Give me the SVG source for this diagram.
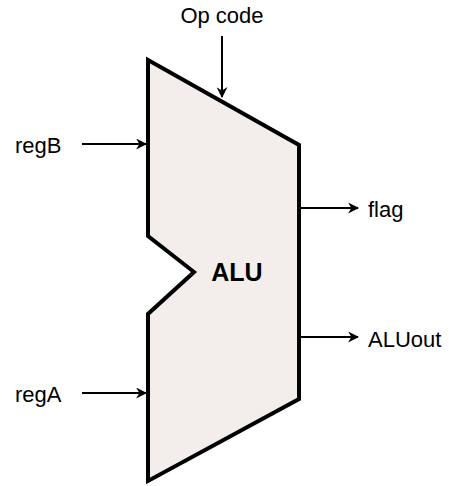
<svg xmlns="http://www.w3.org/2000/svg" width="449" height="486" viewBox="0 0 449 486">
  <defs>
    <marker id="arrow" viewBox="0 0 10 10" refX="9" refY="5" markerWidth="11" markerHeight="11" markerUnits="userSpaceOnUse" orient="auto">
      <path d="M0,0 L10,5 L0,10 L3,5 Z" fill="#000"/>
    </marker>
  </defs>
  <style>
    .lbl { font-family: "Liberation Sans", Arial, sans-serif; font-size: 22px; fill: #000; }
    .conn { stroke: #000; stroke-width: 2; fill: none; marker-end: url(#arrow); }
  </style>
  <rect width="449" height="486" fill="#fff"/>
  <g id="alu">
    <path d="M148,60 L299,145 L299,399 L148,481 L148,314 L194,272 L148,236 Z" fill="#f3eeec" stroke="#000" stroke-width="4" stroke-linejoin="miter"/>
    <text x="237" y="281" text-anchor="middle" class="lbl" style="font-weight:bold;font-size:25px">ALU</text>
  </g>
  <g id="connectors">
    <line class="conn" x1="222" y1="36" x2="222" y2="97"/>
    <line class="conn" x1="82" y1="144" x2="146" y2="144"/>
    <line class="conn" x1="82" y1="393" x2="146" y2="393"/>
    <line class="conn" x1="300" y1="208" x2="358" y2="208"/>
    <line class="conn" x1="300" y1="337" x2="358" y2="337"/>
  </g>
  <g id="labels">
    <text x="222" y="23" text-anchor="middle" class="lbl">Op code</text>
    <text x="15" y="153" class="lbl">regB</text>
    <text x="15" y="402" class="lbl">regA</text>
    <text x="368" y="217" class="lbl">flag</text>
    <text x="368" y="347" class="lbl">ALUout</text>
  </g>
</svg>
